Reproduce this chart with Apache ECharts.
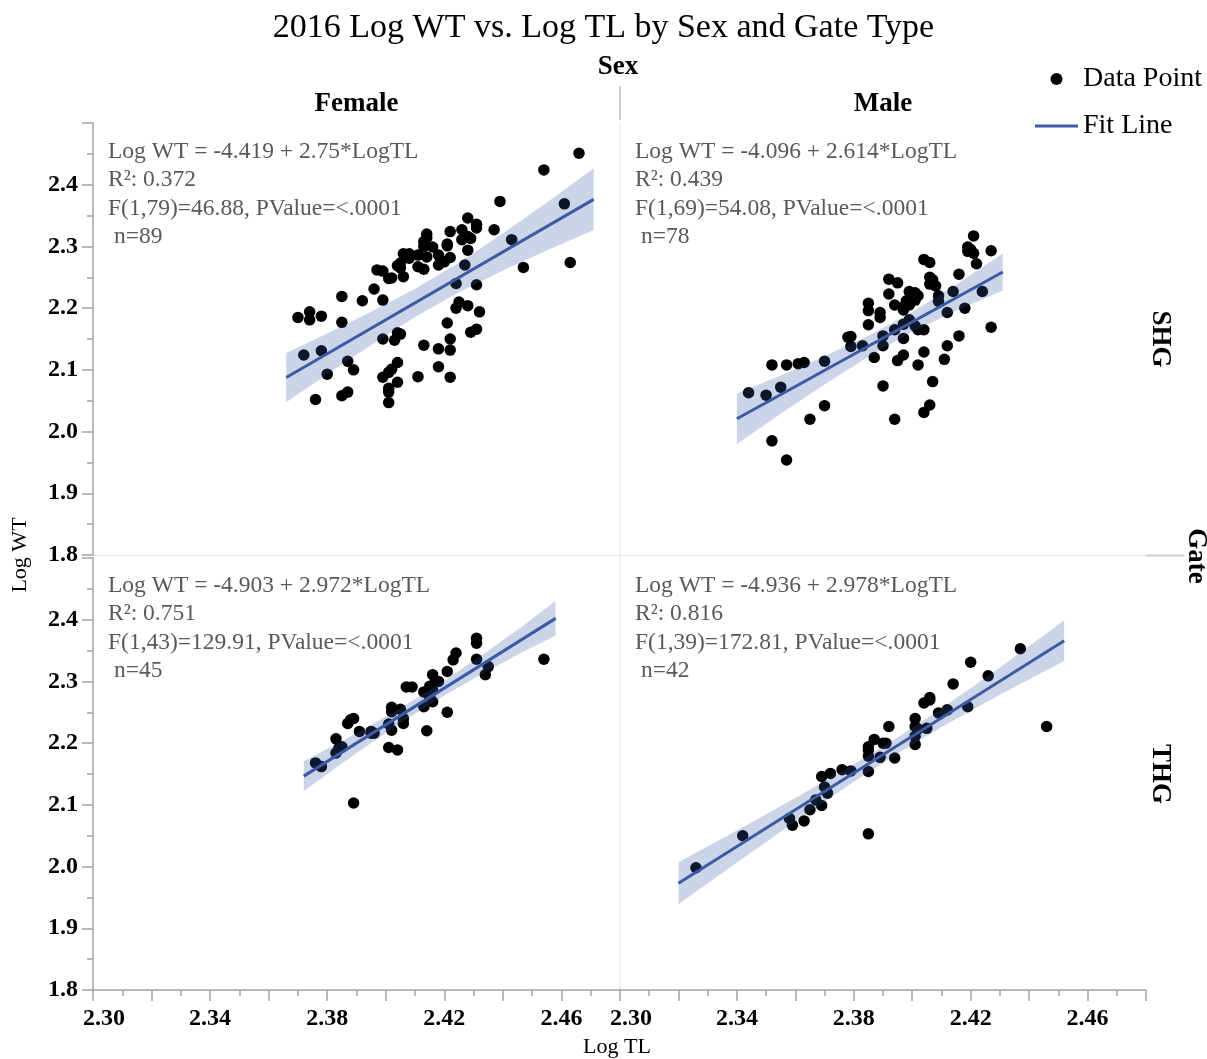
<!DOCTYPE html>
<html>
<head>
<meta charset="utf-8">
<title>2016 Log WT vs. Log TL by Sex and Gate Type</title>
<script src="https://cdn.jsdelivr.net/npm/echarts@6/dist/echarts.min.js"></script>
<style>
  html, body { margin: 0; padding: 0; background: #fff; }
  #chart { width: 1207px; height: 1059px; }
</style>
</head>
<body>
<div id="chart"></div>
<script>
// panel order: SHG/Female, SHG/Male, THG/Female, THG/Male  ([Log TL, Log WT])
const shgFemale = [
  [2.466,2.451],[2.454,2.424],[2.439,2.373],[2.461,2.369],[2.428,2.346],[2.431,2.336],[2.414,2.320],[2.422,2.324],[2.437,2.327],[2.429,2.313],
  [2.426,2.311],[2.413,2.308],[2.413,2.300],[2.421,2.301],[2.428,2.294],[2.443,2.311],[2.406,2.288],[2.408,2.288],[2.414,2.283],[2.418,2.286],
  [2.422,2.282],[2.405,2.273],[2.404,2.269],[2.411,2.267],[2.413,2.263],[2.418,2.270],[2.397,2.262],[2.399,2.260],[2.402,2.249],[2.406,2.251],
  [2.424,2.240],[2.431,2.238],[2.447,2.266],[2.463,2.274],[2.396,2.231],[2.385,2.219],[2.392,2.212],[2.399,2.213],[2.370,2.185],[2.374,2.194],
  [2.374,2.181],[2.378,2.187],[2.385,2.177],[2.424,2.200],[2.428,2.204],[2.432,2.194],[2.421,2.176],[2.429,2.161],[2.431,2.166],[2.422,2.150],
  [2.399,2.150],[2.404,2.160],[2.372,2.124],[2.378,2.131],[2.413,2.140],[2.418,2.134],[2.422,2.132],[2.387,2.114],[2.389,2.100],[2.380,2.093],
  [2.404,2.112],[2.402,2.101],[2.401,2.096],[2.399,2.088],[2.404,2.080],[2.418,2.105],[2.411,2.089],[2.422,2.088],[2.401,2.070],[2.401,2.064],
  [2.376,2.052],[2.385,2.058],[2.387,2.064],[2.401,2.047],[2.408,2.281],[2.414,2.314],[2.428,2.316],[2.426,2.327],[2.421,2.304],[2.416,2.299],
  [2.427,2.270],[2.401,2.248],[2.411,2.286],[2.405,2.265],[2.431,2.330],[2.403,2.148],[2.405,2.158],[2.425,2.210],[2.420,2.275]
];
const shgMale = [
  [2.421,2.317],[2.419,2.299],[2.419,2.292],[2.421,2.289],[2.427,2.293],[2.404,2.279],[2.406,2.274],[2.422,2.272],[2.416,2.255],[2.406,2.250],
  [2.407,2.241],[2.408,2.236],[2.406,2.239],[2.392,2.247],[2.395,2.241],[2.392,2.223],[2.399,2.227],[2.401,2.225],[2.401,2.218],[2.398,2.212],
  [2.399,2.205],[2.397,2.202],[2.394,2.205],[2.385,2.208],[2.385,2.196],[2.389,2.193],[2.385,2.173],[2.409,2.211],[2.414,2.227],[2.424,2.227],
  [2.418,2.200],[2.412,2.193],[2.397,2.174],[2.401,2.171],[2.402,2.165],[2.378,2.153],[2.379,2.154],[2.379,2.138],[2.383,2.139],[2.390,2.155],
  [2.390,2.139],[2.397,2.151],[2.370,2.114],[2.363,2.112],[2.361,2.110],[2.357,2.108],[2.352,2.108],[2.387,2.120],[2.397,2.124],[2.395,2.115],
  [2.404,2.129],[2.402,2.108],[2.411,2.117],[2.412,2.139],[2.416,2.155],[2.427,2.169],[2.344,2.063],[2.350,2.059],[2.355,2.072],[2.370,2.042],
  [2.365,2.020],[2.390,2.074],[2.394,2.020],[2.407,2.081],[2.406,2.043],[2.404,2.031],[2.352,1.985],[2.357,1.954],[2.401,2.213],[2.402,2.220],
  [2.397,2.197],[2.407,2.246],[2.420,2.295],[2.389,2.185],[2.399,2.181],[2.404,2.165],[2.409,2.220],[2.394,2.165]
];
const thgFemale = [
  [2.431,2.370],[2.431,2.362],[2.424,2.346],[2.423,2.335],[2.431,2.336],[2.454,2.336],[2.435,2.324],[2.434,2.311],[2.421,2.316],[2.416,2.311],
  [2.417,2.300],[2.407,2.291],[2.409,2.291],[2.415,2.292],[2.413,2.283],[2.415,2.275],[2.416,2.267],[2.413,2.259],[2.421,2.250],[2.402,2.258],
  [2.405,2.255],[2.406,2.240],[2.406,2.232],[2.401,2.231],[2.402,2.221],[2.414,2.220],[2.388,2.238],[2.389,2.240],[2.387,2.232],[2.391,2.219],
  [2.395,2.216],[2.396,2.216],[2.383,2.207],[2.384,2.192],[2.383,2.184],[2.401,2.193],[2.404,2.189],[2.376,2.168],[2.378,2.162],[2.389,2.103],
  [2.416,2.286],[2.385,2.194],[2.402,2.251],[2.418,2.300],[2.395,2.219]
];
const thgMale = [
  [2.437,2.353],[2.420,2.331],[2.426,2.309],[2.414,2.296],[2.446,2.227],[2.406,2.274],[2.404,2.265],[2.419,2.259],[2.412,2.254],[2.409,2.249],
  [2.401,2.240],[2.392,2.227],[2.405,2.224],[2.402,2.223],[2.401,2.211],[2.401,2.198],[2.387,2.206],[2.390,2.200],[2.385,2.194],[2.385,2.179],
  [2.389,2.177],[2.394,2.176],[2.385,2.154],[2.379,2.155],[2.376,2.157],[2.372,2.151],[2.369,2.146],[2.370,2.129],[2.371,2.119],[2.367,2.108],
  [2.369,2.099],[2.365,2.092],[2.358,2.078],[2.359,2.067],[2.363,2.074],[2.385,2.053],[2.342,2.050],[2.326,1.998],[2.391,2.200],[2.385,2.189],
  [2.401,2.227],[2.406,2.270]
];

// regression fits as printed, and the x span each fit line covers
const fitIntercept = [-4.419, -4.096, -4.903, -4.936];
const fitSlope = [2.75, 2.614, 2.972, 2.978];
const fitFrom = [2.366, 2.340, 2.372, 2.320];
const fitTo = [2.471, 2.431, 2.458, 2.452];
const statR2 = ['0.372', '0.439', '0.751', '0.816'];
const statF = ['F(1,79)=46.88', 'F(1,69)=54.08', 'F(1,43)=129.91', 'F(1,39)=172.81'];
const statN = [89, 78, 45, 42];

// confidence band half widths
const bandX = [
  [2.366, 2.38, 2.395, 2.41, 2.425, 2.44, 2.455, 2.471],
  [2.340, 2.355, 2.37, 2.385, 2.40, 2.415, 2.431],
  [2.372, 2.39, 2.405, 2.42, 2.435, 2.447, 2.458],
  [2.320, 2.34, 2.36, 2.38, 2.395, 2.41, 2.43, 2.452]
];
const bandHalf = [
  [0.040, 0.033, 0.027, 0.023, 0.024, 0.030, 0.039, 0.050],
  [0.041, 0.031, 0.023, 0.017, 0.016, 0.021, 0.030],
  [0.024, 0.016, 0.012, 0.012, 0.016, 0.021, 0.028],
  [0.034, 0.026, 0.019, 0.014, 0.013, 0.015, 0.022, 0.033]
];

const sexLabels = ['Female', 'Male'];
const gateLabels = ['SHG', 'THG'];
const xTicks = { min: 2.30, max: 2.48, step: 0.02 };
const yTicks = { min: 1.8, max: 2.5, step: 0.1 };

const points = [shgFemale, shgMale, thgFemale, thgMale];
const SERIF = "'Liberation Serif', 'Times New Roman', serif";
const BLUE = '#3b5ba5';
const AXIS_GRAY = '#a3a3a3';

const gridPos = [
  { left: 93, top: 123, width: 527, height: 432 },
  { left: 620, top: 123, width: 526, height: 432 },
  { left: 93, top: 558, width: 527, height: 432 },
  { left: 620, top: 558, width: 526, height: 432 }
];

const chart = echarts.init(document.getElementById('chart'));

const xAxes = gridPos.map((g, i) => {
  const bottom = i >= 2;
  return {
    type: 'value', gridIndex: i,
    min: xTicks.min, max: xTicks.max, interval: xTicks.step,
    show: bottom,
    axisLine: { show: true, onZero: false, lineStyle: { color: AXIS_GRAY, width: 1.5 } },
    axisTick: { show: true, length: 11, lineStyle: { color: AXIS_GRAY, width: 1.5 } },
    minorTick: { show: true, splitNumber: 2, length: 6, lineStyle: { color: AXIS_GRAY, width: 1.5 } },
    splitLine: { show: false },
    axisLabel: {
      margin: 17, color: '#000', fontFamily: SERIF, fontWeight: 'bold', fontSize: 24,
      formatter: v => {
        const k = Math.round(v * 100);
        if (k % 4 !== 2) return '';
        return k === 230 ? '{first|' + v.toFixed(2) + '}' : v.toFixed(2);
      },
      rich: { first: { padding: [0, 0, 0, 22], fontFamily: SERIF, fontWeight: 'bold', fontSize: 24, color: '#000' } }
    }
  };
});

const yAxes = gridPos.map((g, i) => {
  const left = i % 2 === 0;
  return {
    type: 'value', gridIndex: i,
    min: yTicks.min, max: yTicks.max, interval: yTicks.step,
    show: left,
    axisLine: { show: true, onZero: false, lineStyle: { color: AXIS_GRAY, width: 1.5 } },
    axisTick: { show: true, length: 11, lineStyle: { color: AXIS_GRAY, width: 1.5 } },
    minorTick: { show: true, splitNumber: 2, length: 6, lineStyle: { color: AXIS_GRAY, width: 1.5 } },
    splitLine: { show: false },
    axisLabel: {
      margin: 15, color: '#000', fontFamily: SERIF, fontWeight: 'bold', fontSize: 24,
      formatter: v => (v > 2.45 ? '' : v.toFixed(1))
    }
  };
});

function bandRenderer(k) {
  return function (params, api) {
    const upper = [];
    const lower = [];
    bandX[k].forEach((x, j) => {
      const y = fitIntercept[k] + fitSlope[k] * x;
      upper.push(api.coord([x, y + bandHalf[k][j]]));
      lower.unshift(api.coord([x, y - bandHalf[k][j]]));
    });
    return {
      type: 'polygon',
      shape: { points: upper.concat(lower) },
      style: { fill: 'rgba(59,91,165,0.26)' }
    };
  };
}

const series = [];
points.forEach((pts, k) => {
  series.push({
    name: 'Data Point', type: 'scatter', xAxisIndex: k, yAxisIndex: k,
    data: pts, symbolSize: 11.5, itemStyle: { color: '#000', opacity: 1 }, z: 2
  });
  series.push({
    name: 'band', type: 'custom', xAxisIndex: k, yAxisIndex: k,
    data: [[bandX[k][0], fitIntercept[k] + fitSlope[k] * bandX[k][0]]],
    renderItem: bandRenderer(k), silent: true, z: 3
  });
  series.push({
    name: 'Fit Line', type: 'line', xAxisIndex: k, yAxisIndex: k,
    data: [
      [fitFrom[k], fitIntercept[k] + fitSlope[k] * fitFrom[k]],
      [fitTo[k], fitIntercept[k] + fitSlope[k] * fitTo[k]]
    ],
    symbol: 'none', lineStyle: { color: BLUE, width: 3 }, itemStyle: { color: BLUE },
    silent: true, z: 4
  });
});

function txt(text, x, y, font, opts) {
  return Object.assign({
    type: 'text', x: x, y: y, silent: true,
    style: { text: text, font: font, fill: '#000', textAlign: 'center', textVerticalAlign: 'middle' }
  }, opts || {});
}
function line(x1, y1, x2, y2, color, width) {
  return { type: 'line', silent: true, shape: { x1, y1, x2, y2 }, style: { stroke: color, lineWidth: width } };
}

const graphics = [
  line(620, 123, 620, 990, '#e4e4e4', 1),
  line(93, 555.5, 1146, 555.5, '#e4e4e4', 1),
  line(620, 86, 620, 120, '#cfcfcf', 2),
  line(1146, 555.5, 1184, 555.5, '#cfcfcf', 2),
  txt('Sex', 618, 67, 'bold 27px ' + SERIF),
  txt(sexLabels[0], 356.5, 104, 'bold 27px ' + SERIF),
  txt(sexLabels[1], 883, 104, 'bold 27px ' + SERIF),
  txt(gateLabels[0], 1160, 339, 'bold 27px ' + SERIF, { rotation: -Math.PI / 2 }),
  txt(gateLabels[1], 1160, 774, 'bold 27px ' + SERIF, { rotation: -Math.PI / 2 }),
  txt('Gate', 1196, 556, 'bold 27px ' + SERIF, { rotation: -Math.PI / 2 }),
  txt('Log WT', 20, 555, '22px ' + SERIF, { rotation: Math.PI / 2 }),
  txt('Log TL', 617, 1047, '22px ' + SERIF)
];

gridPos.forEach((g, k) => {
  const x0 = g.left + 15;
  const y0 = k < 2 ? 152 : 586;
  const lines = [
    'Log WT = ' + fitIntercept[k] + ' + ' + fitSlope[k] + '*LogTL',
    'R\u00b2: ' + statR2[k],
    statF[k] + ', PValue=<.0001',
    ' n=' + statN[k]
  ];
  lines.forEach((t, j) => {
    graphics.push({
      type: 'text', x: x0, y: y0 + j * 28.3, silent: true,
      style: { text: t, font: '23.5px ' + SERIF, fill: '#595959', textAlign: 'left', textVerticalAlign: 'middle' }
    });
  });
});

chart.setOption({
  animation: false,
  backgroundColor: '#fff',
  title: {
    text: '2016 Log WT vs. Log TL by Sex and Gate Type',
    left: 'center', top: 6,
    textStyle: { fontFamily: SERIF, fontWeight: 'normal', fontSize: 34, color: '#000' }
  },
  legend: {
    data: [
      { name: 'Data Point', icon: 'circle' },
      { name: 'Fit Line', icon: 'path://M0,0H43V3H0Z' }
    ],
    orient: 'vertical', left: 1035, top: 65, padding: 0,
    itemWidth: 43, itemHeight: 12, itemGap: 19,
    textStyle: { fontFamily: SERIF, fontSize: 28, color: '#000', lineHeight: 28 },
    selectedMode: false
  },
  grid: gridPos,
  xAxis: xAxes,
  yAxis: yAxes,
  series: series,
  graphic: graphics
});
</script>
</body>
</html>
